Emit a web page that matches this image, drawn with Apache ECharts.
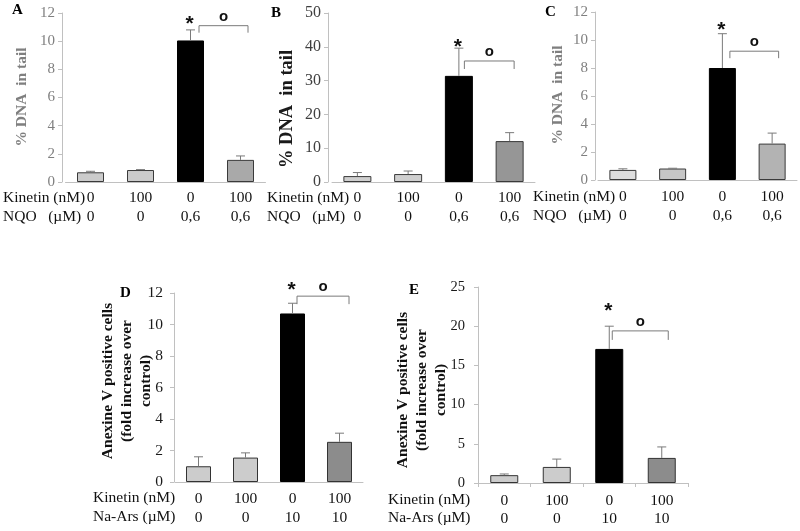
<!DOCTYPE html>
<html>
<head>
<meta charset="utf-8">
<script src="https://cdn.jsdelivr.net/npm/echarts@6/dist/echarts.min.js"></script>
<style>
html,body{margin:0;padding:0;background:#fff;}
#chart{width:800px;height:531px;}
</style>
</head>
<body>
<div id="chart"></div>
<script>
// ---------- data ----------
const kinetinNM = ['0', '100', '0', '100'];
const nqoUM = ['0', '0', '0,6', '0,6'];
const naArsUM = ['0', '0', '10', '10'];

const valuesA = [0.69, 0.85, 10.05, 1.57];
const errorsA = [0.07, 0.03, 0.75, 0.28];
const valuesB = [1.75, 2.35, 31.4, 12.1];
const errorsB = [1.05, 0.9, 8.2, 2.5];
const valuesC = [0.72, 0.82, 8.0, 2.6];
const errorsC = [0.08, 0.02, 2.45, 0.75];
const valuesD = [1.0, 1.55, 10.7, 2.55];
const errorsD = [0.6, 0.3, 0.65, 0.55];
const valuesE = [1.0, 2.05, 17.1, 3.2];
const errorsE = [0.15, 1.0, 2.9, 1.4];

const yMaxA = 12, yStepA = 2;
const yMaxB = 50, yStepB = 10;
const yMaxC = 12, yStepC = 2;
const yMaxD = 12, yStepD = 2;
const yMaxE = 25, yStepE = 5;

// annotation levels (data units)
const bracketA = 11.1, starA = 11.55;
const bracketB = 35.8, starB = 41.3;
const bracketC = 9.2, starC = 11.05;
const bracketD = 11.8, starD = 12.5;
const bracketE = 19.4, starE = 22.6;

// ---------- layout / style ----------
const SERIF = "'Liberation Serif','Times New Roman',serif";
const SANS = "'Liberation Sans',Arial,sans-serif";

const panels = [
  { key:'A', values: valuesA, errors: errorsA, row2: nqoUM, yMax: yMaxA, yStep: yStepA,
    grid:{left:65.5, top:13, width:200, height:169}, yOffset:3.5, barWidth:27,
    colors:['#cbcbcb','#cbcbcb','#000000','#a9a9a9'], border:'#3a3a3a',
    tickColor:'#7f7f7f', tickSize:15, labelMargin:7, xTicks:false, xMargin:6, xLineHeight:19,
    bracket:bracketA, star:starA, bdx:[8.5,7.5], arm:7 },
  { key:'B', values: valuesB, errors: errorsB, row2: nqoUM, yMax: yMaxB, yStep: yStepB,
    grid:{left:332, top:13, width:203, height:169}, yOffset:4, barWidth:28,
    colors:['#cfcfcf','#cfcfcf','#000000','#969696'], border:'#3a3a3a',
    tickColor:'#3f3f3f', tickSize:16, labelMargin:7, xTicks:false, xMargin:6, xLineHeight:19,
    bracket:bracketB, star:starB, bdx:[5.5,4.5], arm:8 },
  { key:'C', values: valuesC, errors: errorsC, row2: nqoUM, yMax: yMaxC, yStep: yStepC,
    grid:{left:598, top:12, width:199, height:168}, yOffset:3, barWidth:27,
    colors:['#dedede','#c6c6c6','#000000','#b3b3b3'], border:'#3a3a3a',
    tickColor:'#7f7f7f', tickSize:15, labelMargin:7, xTicks:false, xMargin:7, xLineHeight:19,
    bracket:bracketC, star:starC, bdx:[7.5,6.5], arm:7 },
  { key:'D', values: valuesD, errors: errorsD, row2: naArsUM, yMax: yMaxD, yStep: yStepD,
    grid:{left:175, top:293, width:188, height:189}, yOffset:1, barWidth:25,
    colors:['#cccccc','#cccccc','#000000','#8c8c8c'], border:'#333333',
    tickColor:'#1a1a1a', tickSize:15.5, labelMargin:11, xTicks:false, xMargin:7, xLineHeight:19,
    bracket:bracketD, star:starD, bdx:[4.5,9.5], arm:8 },
  { key:'E', values: valuesE, errors: errorsE, row2: naArsUM, yMax: yMaxE, yStep: yStepE,
    grid:{left:478, top:287, width:210, height:196}, yOffset:0, barWidth:28,
    colors:['#cccccc','#cccccc','#000000','#8c8c8c'], border:'#333333',
    tickColor:'#1a1a1a', tickSize:14.5, labelMargin:13, xTicks:true, xMargin:9, xLineHeight:18,
    bracket:bracketE, star:starE, bdx:[3,6.5], arm:9 }
];

const AXIS_COLOR = '#c0c0c0';
const grid = [], xAxis = [], yAxis = [], series = [];

panels.forEach((p, i) => {
  grid.push(Object.assign({containLabel:false}, p.grid));
  xAxis.push({
    type:'category', gridIndex:i,
    data: kinetinNM.map((k, j) => k + '\n' + p.row2[j]),
    axisLine:{show:true, lineStyle:{color:AXIS_COLOR, width:1}},
    axisTick:{show:p.xTicks, length:4, lineStyle:{color:AXIS_COLOR}},
    axisLabel:{color:'#111', fontFamily:SERIF, fontSize:15.5, lineHeight:p.xLineHeight, margin:p.xMargin, interval:0},
    splitLine:{show:false}
  });
  yAxis.push({
    type:'value', gridIndex:i, min:0, max:p.yMax, interval:p.yStep, offset:p.yOffset,
    axisLine:{show:true, lineStyle:{color:AXIS_COLOR, width:1}},
    axisTick:{show:true, length:4, lineStyle:{color:AXIS_COLOR}},
    axisLabel:{color:p.tickColor, fontFamily:SERIF, fontSize:p.tickSize, margin:p.labelMargin},
    splitLine:{show:false}
  });
  series.push({
    type:'bar', xAxisIndex:i, yAxisIndex:i, barWidth:p.barWidth, silent:true,
    data: p.values.map((v, j) => ({value:v, itemStyle:{color:p.colors[j], borderColor: j===2 ? '#000' : p.border, borderWidth:1}})),
    z:2
  });
  // error bars (upper only)
  series.push({
    type:'custom', xAxisIndex:i, yAxisIndex:i, silent:true, z:3,
    data: p.values.map((v, j) => [j, v, p.errors[j]]),
    renderItem: function(params, api){
      const base = api.coord([api.value(0), api.value(1)]);
      const top = api.coord([api.value(0), api.value(1) + api.value(2)]);
      const st = {stroke:'#7a7a7a', lineWidth:1};
      return {type:'group', children:[
        {type:'line', shape:{x1:base[0], y1:base[1], x2:base[0], y2:top[1]}, style:st},
        {type:'line', shape:{x1:base[0]-4.5, y1:top[1], x2:base[0]+4.5, y2:top[1]}, style:st}
      ]};
    }
  });
  // bracket + significance marks
  series.push({
    type:'custom', xAxisIndex:i, yAxisIndex:i, silent:true, z:4,
    data: [[2, 3, p.bracket, p.star]],
    renderItem: function(params, api){
      const a = api.coord([api.value(0), api.value(2)]);
      const b = api.coord([api.value(1), api.value(2)]);
      const s = api.coord([api.value(0), api.value(3)]);
      const x1 = a[0] + p.bdx[0], x2 = b[0] + p.bdx[1], y = a[1];
      const st = {stroke:'#7a7a7a', lineWidth:1, fill:null};
      return {type:'group', children:[
        {type:'polyline', shape:{points:[[x1, y + p.arm],[x1, y],[x2, y],[x2, y + p.arm]]}, style:st},
        {type:'text', x:(x1 + x2)/2, y:y - 1.5, style:{text:'o', fill:'#111', font:'bold 15px ' + SANS, align:'center', verticalAlign:'bottom'}},
        {type:'text', x:s[0] - 1, y:s[1] + 5, style:{text:'*', fill:'#111', font:'bold 21px ' + SANS, align:'center', verticalAlign:'middle'}}
      ]};
    }
  });
});

// ---------- texts ----------
function txt(x, y, text, font, color, align, rotation){
  return {type:'text', x:x, y:y, rotation:rotation||0,
    style:{text:text, font:font, fill:color, align:align||'left', verticalAlign:'middle', lineHeight:19}};
}
const R = Math.PI/2;
const graphic = [
  txt(12, 10, 'A', 'bold 15px ' + SERIF, '#000'),
  txt(271, 13, 'B', 'bold 15px ' + SERIF, '#000'),
  txt(545, 12, 'C', 'bold 15px ' + SERIF, '#000'),
  txt(120, 293, 'D', 'bold 15px ' + SERIF, '#000'),
  txt(409, 290, 'E', 'bold 15px ' + SERIF, '#000'),
  // y titles
  txt(22, 97, '% DNA  in tail', 'bold 15.5px ' + SERIF, '#7f7f7f', 'center', R),
  txt(287, 109, '% DNA  in tail', 'bold 18.5px ' + SERIF, '#1a1a1a', 'center', R),
  txt(558, 95, '% DNA  in tail', 'bold 15.5px ' + SERIF, '#7f7f7f', 'center', R),
  txt(127, 381, 'Anexine V positive cells\n(fold increase over\ncontrol)', 'bold 15.5px ' + SERIF, '#111', 'center', R),
  txt(422, 390, 'Anexine V positive cells\n(fold increase over\ncontrol)', 'bold 15.5px ' + SERIF, '#111', 'center', R),
  // row titles
  txt(3, 198, 'Kinetin (nM)', '15.5px ' + SERIF, '#111'),
  txt(3, 217, 'NQO   (µM)', '15.5px ' + SERIF, '#111'),
  txt(267, 198, 'Kinetin (nM)', '15.5px ' + SERIF, '#111'),
  txt(267, 217, 'NQO   (µM)', '15.5px ' + SERIF, '#111'),
  txt(533, 197, 'Kinetin (nM)', '15.5px ' + SERIF, '#111'),
  txt(533, 216, 'NQO   (µM)', '15.5px ' + SERIF, '#111'),
  txt(93, 498, 'Kinetin (nM)', '15.5px ' + SERIF, '#111'),
  txt(93, 517, 'Na-Ars (µM)', '15.5px ' + SERIF, '#111'),
  txt(388, 500, 'Kinetin (nM)', '15.5px ' + SERIF, '#111'),
  txt(388, 518, 'Na-Ars (µM)', '15.5px ' + SERIF, '#111')
];

const chart = echarts.init(document.getElementById('chart'), null, {renderer:'canvas'});
chart.setOption({
  animation:false,
  backgroundColor:'#ffffff',
  grid: grid, xAxis: xAxis, yAxis: yAxis, series: series, graphic: graphic
});
</script>
</body>
</html>
